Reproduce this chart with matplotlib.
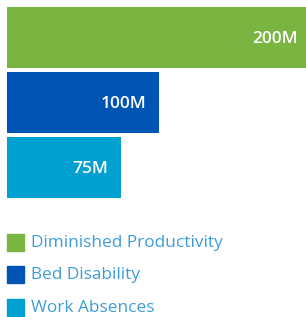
import matplotlib.pyplot as plt
from matplotlib.patches import Rectangle

labels = ["Diminished Productivity", "Bed Disability", "Work Absences"]
values = [200, 100, 75]
value_text = ["200M", "100M", "75M"]
colors = ["#7ab441", "#0055b4", "#00a0d0"]

W, H = 306, 317
fig = plt.figure(figsize=(W / 100, H / 100), dpi=100)
plt.rcParams['font.family'] = ['Open Sans', 'DejaVu Sans']

# bar area: pixels x 7..306, y 5..199
ax = fig.add_axes([7 / W, 1 - 200 / H, 1 - 7 / W, 195 / H])
ypos = list(range(len(values)))
ax.barh(ypos, values, height=0.94, color=colors)
for y, v, t in zip(ypos, values, value_text):
    ax.text(v - 8.5, y + 0.03, t, color="white", fontsize=12.5,
            fontweight="semibold", ha="right", va="center")
ax.set_xlim(0, 196.7)
ax.set_ylim(2.5, -0.5)
ax.axis("off")

# legend
row_y = [243, 275, 308]
for yc, lab, col in zip(row_y, labels, colors):
    fig.patches.append(Rectangle((7 / W, 1 - (yc + 8) / H), 17 / W, 17 / H,
                                 transform=fig.transFigure, color=col))
    fig.text(31 / W, 1 - yc / H, lab, color="#3d9ddb", fontsize=12.4,
             ha="left", va="center")

fig.savefig("out.png", dpi=100)
